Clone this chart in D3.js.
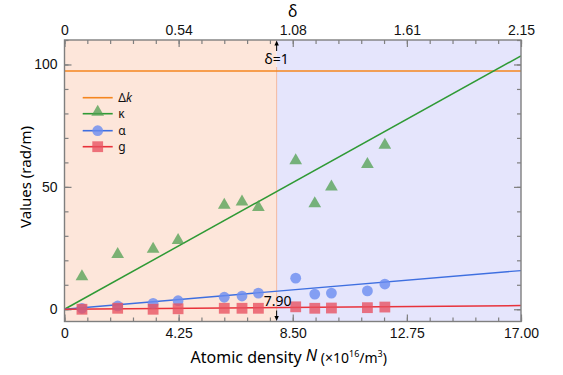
<!DOCTYPE html>
<html>
<head>
<meta charset="utf-8">
<script src="https://cdn.jsdelivr.net/npm/d3@7/dist/d3.min.js"></script>
<style>
  body { margin: 0; background: #fff; }
  svg { font-family: "Noto Sans", "Open Sans", sans-serif; }
</style>
</head>
<body>
<div id="chart"></div>
<script>
const density = [0.65, 1.98, 3.30, 4.23, 5.95, 6.61, 7.22, 8.61, 9.32, 9.94, 11.28, 11.93];
const kappa = [13.3, 22.4, 24.6, 28.2, 42.6, 43.9, 41.6, 60.7, 43.2, 50.0, 59.2, 67.1];
const alpha = [0.4, 1.35, 2.4, 3.5, 4.9, 5.4, 6.6, 12.7, 6.2, 6.6, 7.5, 10.3];
const gain = [0.0, 0.4, 0.0, 0.2, 0.4, 0.4, 0.4, 1.0, 0.4, 0.5, 0.65, 0.9];

// Linear fits through the origin (slope per 10^16 m^-3)
const fitSlopes = { kappa: 6.09, alpha: 0.93, gain: 0.088 };
const deltaK = 97.3;
const criticalN = 7.90;

const bottomTicks = [0, 4.25, 8.5, 12.75, 17];
const bottomTickLabels = ['0', '4.25', '8.50', '12.75', '17.00'];
const topTickLabels = ['0', '0.54', '1.08', '1.61', '2.15'];
const yTicks = [0, 50, 100];

const width = 563, height = 375;
const margin = { top: 40, right: 42, bottom: 53.5, left: 64.5 };
const iw = width - margin.left - margin.right;
const ih = height - margin.top - margin.bottom;

const x = d3.scaleLinear().domain([0, 17]).range([0, iw]);
const y = d3.scaleLinear().domain([-5, 110]).range([ih, 0]);

const FRAME = '#7f7f7f';
const COLORS = {
  dk: '#f5861f',
  kappa: '#2f9a35',
  alpha: '#3e6fe0',
  gain: '#e8323b'
};
const MARK = {
  kappa: '#4f9f50',
  alpha: '#6a8cf0',
  gain: '#e8505f'
};

const svg = d3.select('#chart').append('svg')
  .attr('width', width)
  .attr('height', height);

svg.append('defs').append('clipPath').attr('id', 'plot-clip')
  .append('rect').attr('width', iw).attr('height', ih);

const g = svg.append('g').attr('transform', `translate(${margin.left},${margin.top})`);

// Background regions
g.append('rect')
  .attr('x', 0).attr('y', 0)
  .attr('width', x(criticalN)).attr('height', ih)
  .attr('fill', '#fde6da');
g.append('rect')
  .attr('x', x(criticalN)).attr('y', 0)
  .attr('width', iw - x(criticalN)).attr('height', ih)
  .attr('fill', '#e5e5fc');

// divider
g.append('line')
  .attr('x1', x(criticalN)).attr('x2', x(criticalN))
  .attr('y1', 27).attr('y2', ih - 11)
  .attr('stroke', '#f4b99e').attr('stroke-width', 1);

// Ticks (inward on all four sides)
const minorX = d3.range(0, 17.001, 0.85);
const minorY = d3.range(-0, 110.001, 10);

function styleAxis(sel) {
  sel.select('.domain').remove();
  sel.selectAll('.tick line').attr('stroke', FRAME).attr('stroke-width', 1.2);
  sel.selectAll('.tick text').attr('fill', '#111').style('font-size', '14px');
}

g.append('g').attr('transform', `translate(0,${ih})`)
  .call(d3.axisBottom(x).tickValues(minorX).tickSize(-4).tickFormat(''))
  .call(styleAxis);
g.append('g').attr('transform', `translate(0,${ih})`)
  .call(d3.axisBottom(x).tickValues(bottomTicks).tickSize(-7).tickPadding(6.5)
    .tickFormat((d, i) => bottomTickLabels[i]))
  .call(styleAxis);

g.append('g')
  .call(d3.axisTop(x).tickValues(minorX).tickSize(-4).tickFormat(''))
  .call(styleAxis);
g.append('g')
  .call(d3.axisTop(x).tickValues(bottomTicks).tickSize(-7).tickPadding(5)
    .tickFormat((d, i) => topTickLabels[i]))
  .call(styleAxis);

g.append('g')
  .call(d3.axisLeft(y).tickValues(minorY).tickSize(-4).tickFormat(''))
  .call(styleAxis);
g.append('g')
  .call(d3.axisLeft(y).tickValues(yTicks).tickSize(-7).tickPadding(7))
  .call(styleAxis);

g.append('g').attr('transform', `translate(${iw},0)`)
  .call(d3.axisRight(y).tickValues(minorY).tickSize(-4).tickFormat(''))
  .call(styleAxis);
g.append('g').attr('transform', `translate(${iw},0)`)
  .call(d3.axisRight(y).tickValues(yTicks).tickSize(-7).tickFormat(''))
  .call(styleAxis);

// Lines
const plot = g.append('g').attr('clip-path', 'url(#plot-clip)');

plot.append('line')
  .attr('x1', 0).attr('x2', iw)
  .attr('y1', y(deltaK)).attr('y2', y(deltaK))
  .attr('stroke', COLORS.dk).attr('stroke-width', 1.5);

const fitLine = d3.line().x(d => x(d[0])).y(d => y(d[1]));
[['kappa', 1.5], ['alpha', 1.3], ['gain', 1.5]].forEach(([k, w]) => {
  plot.append('path')
    .datum([[0, 0], [17, 17 * fitSlopes[k]]])
    .attr('d', fitLine)
    .attr('fill', 'none')
    .attr('stroke', COLORS[k])
    .attr('stroke-width', w);
});

// Markers
const triSym = d3.symbol().type(d3.symbolTriangle).size(70);
const points = density.map((n, i) => ({ n, k: kappa[i], a: alpha[i], gg: gain[i] }));

plot.append('g').selectAll('path')
  .data(points)
  .join('path')
  .attr('d', triSym)
  .attr('transform', d => `translate(${x(d.n)},${y(d.k)})`)
  .attr('fill', MARK.kappa).attr('fill-opacity', 0.75);

plot.append('g').selectAll('circle')
  .data(points)
  .join('circle')
  .attr('cx', d => x(d.n)).attr('cy', d => y(d.a))
  .attr('r', 5.4)
  .attr('fill', MARK.alpha).attr('fill-opacity', 0.8);

plot.append('g').selectAll('rect')
  .data(points)
  .join('rect')
  .attr('x', d => x(d.n) - 5.4).attr('y', d => y(d.gg) - 5.4)
  .attr('width', 10.8).attr('height', 10.8)
  .attr('fill', MARK.gain).attr('fill-opacity', 0.78);

// Frame
g.append('rect')
  .attr('width', iw).attr('height', ih)
  .attr('fill', 'none')
  .attr('stroke', FRAME).attr('stroke-width', 1.4);

// Arrows at the critical density
function arrow(x0, yFrom, yTo) {
  const dir = yTo < yFrom ? -1 : 1;
  g.append('line')
    .attr('x1', x0).attr('x2', x0)
    .attr('y1', yFrom).attr('y2', yTo - dir * 3)
    .attr('stroke', '#000').attr('stroke-width', 1);
  g.append('path')
    .attr('d', `M${x0},${yTo} L${x0 - 2.2},${yTo - dir * 5} L${x0 + 2.2},${yTo - dir * 5} Z`)
    .attr('fill', '#000');
}
arrow(x(criticalN), 11, 0.5);
arrow(x(criticalN), ih - 11, ih - 0.5);

g.append('text')
  .attr('x', x(criticalN)).attr('y', 24)
  .attr('text-anchor', 'middle')
  .style('font-size', '14px')
  .text('δ=1');

g.append('text')
  .attr('x', x(criticalN) + 1).attr('y', ih - 16)
  .attr('text-anchor', 'middle')
  .style('font-size', '14px')
  .text(criticalN.toFixed(2));

// Legend
const legendRows = [
  { key: 'dk', label: 'Δ', italic: 'k', y: 97.7 },
  { key: 'kappa', label: 'κ', y: 113.7 },
  { key: 'alpha', label: 'α', y: 130.7 },
  { key: 'gain', label: 'g', y: 146.7 }
];
const legend = svg.append('g');
legendRows.forEach(r => {
  legend.append('line')
    .attr('x1', 82.7).attr('x2', 112.7)
    .attr('y1', r.y).attr('y2', r.y)
    .attr('stroke', COLORS[r.key]).attr('stroke-width', 1.6);
  const cx = 97.7;
  if (r.key === 'kappa') {
    legend.append('path').attr('d', triSym)
      .attr('transform', `translate(${cx},${r.y - 1.5})`)
      .attr('fill', MARK.kappa).attr('fill-opacity', 0.75);
  } else if (r.key === 'alpha') {
    legend.append('circle').attr('cx', cx).attr('cy', r.y).attr('r', 5.4)
      .attr('fill', MARK.alpha).attr('fill-opacity', 0.8);
  } else if (r.key === 'gain') {
    legend.append('rect').attr('x', cx - 5.4).attr('y', r.y - 5.4)
      .attr('width', 10.8).attr('height', 10.8)
      .attr('fill', MARK.gain).attr('fill-opacity', 0.78);
  }
  const t = legend.append('text')
    .attr('x', 118.3).attr('y', r.y + 4)
    .style('font-size', '12px')
    .attr('fill', '#111');
  t.append('tspan').text(r.label);
  if (r.italic) t.append('tspan').style('font-style', 'italic').text(r.italic);
});

// Axis titles
svg.append('text')
  .attr('x', margin.left + iw / 2).attr('y', 17)
  .attr('text-anchor', 'middle')
  .style('font-size', '16px')
  .text('δ');

svg.append('text')
  .attr('transform', `translate(31,177) rotate(-90)`)
  .attr('text-anchor', 'middle')
  .style('font-size', '15px')
  .text('Values (rad/m)');

const xt = svg.append('text')
  .attr('x', margin.left + iw / 2 - 4).attr('y', 363)
  .attr('text-anchor', 'middle')
  .style('font-size', '16px');
xt.append('tspan').text('Atomic density ');
xt.append('tspan').style('font-style', 'italic').attr('dy', -2).text('N');
xt.append('tspan').attr('dy', 2).style('font-size', '14px').text(' (×10');
xt.append('tspan').attr('dy', -6).style('font-size', '9px').text('16');
xt.append('tspan').attr('dy', 6).style('font-size', '14px').text('/m');
xt.append('tspan').attr('dy', -6).style('font-size', '9px').text('3');
xt.append('tspan').attr('dy', 6).style('font-size', '14px').text(')');
</script>
</body>
</html>
